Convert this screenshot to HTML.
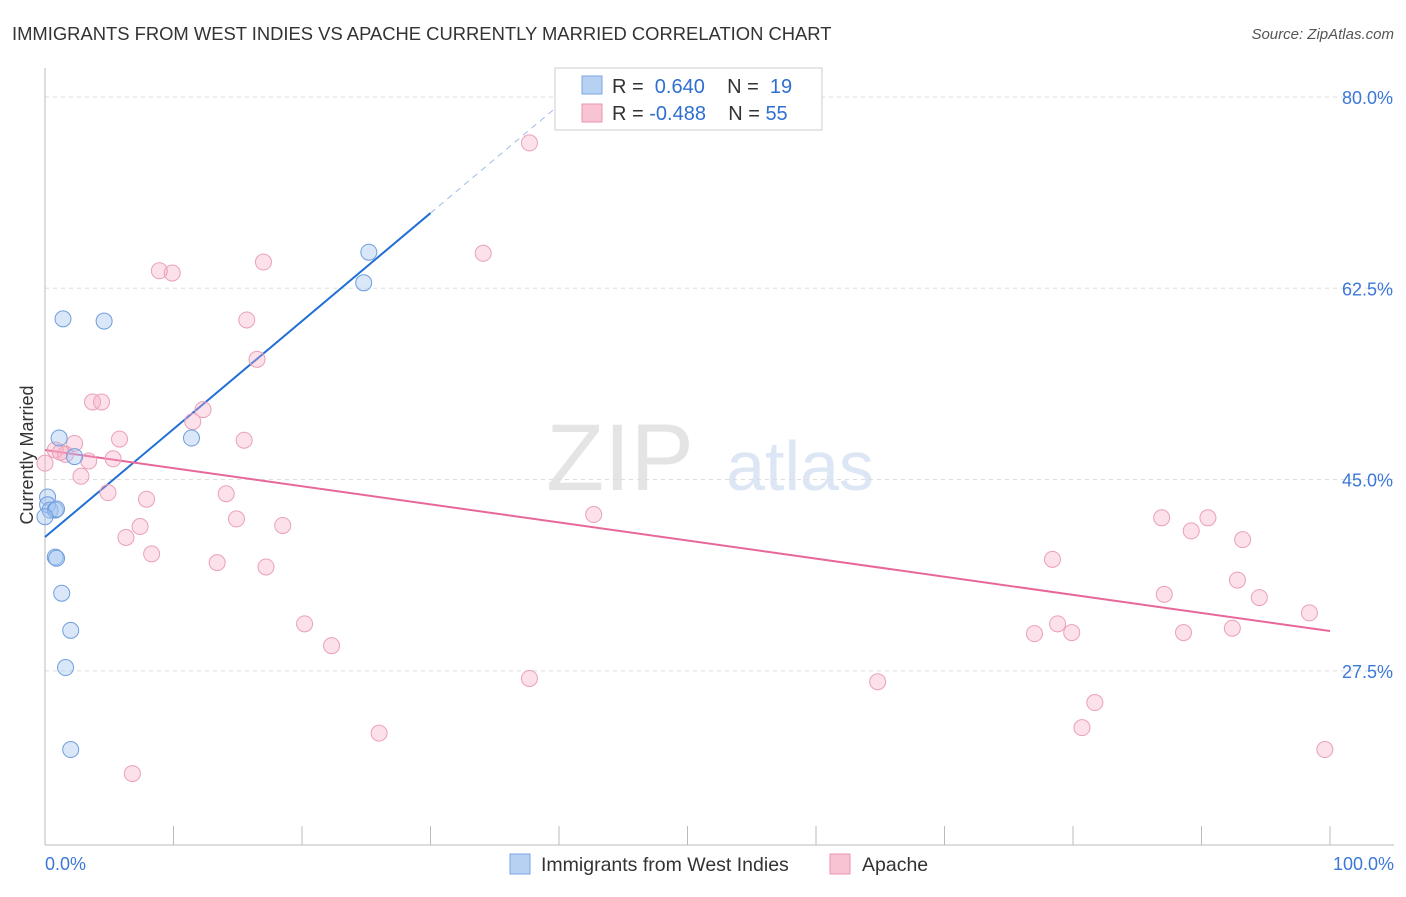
<!DOCTYPE html>
<html><head><meta charset="utf-8"><style>
body{margin:0;background:#fff;font-family:"Liberation Sans",sans-serif;}
svg text{font-family:"Liberation Sans",sans-serif;}
</style></head><body>
<svg id="chart" width="1406" height="892">
<text x="12" y="40" font-size="18.4" fill="#333">IMMIGRANTS FROM WEST INDIES VS APACHE CURRENTLY MARRIED CORRELATION CHART</text>
<text x="1394" y="39" font-size="15" fill="#555" font-style="italic" text-anchor="end">Source: ZipAtlas.com</text>
<text x="620" y="490" font-size="95" fill="#e4e4e4" font-family="Liberation Serif" text-anchor="middle">ZIP</text>
<text x="800" y="490" font-size="70" fill="#dce6f4" text-anchor="middle">atlas</text>
<text transform="translate(33,455) rotate(-90)" font-size="18" fill="#333" text-anchor="middle">Currently Married</text>
<g id="grid"></g><g id="axes"></g><g id="lines"></g><g id="pts"></g>
<g>
<rect x="555" y="68" width="267" height="62" fill="#fff" stroke="#ccc"/>
<rect x="582" y="76" width="20" height="18" fill="#b7d1f3" stroke="#7aa6e0"/>
<text x="612" y="93" font-size="20" fill="#333">R = <tspan fill="#2f6fd0">&#160;0.640</tspan>&#160;&#160;&#160;&#160;N = <tspan fill="#2f6fd0">&#160;19</tspan></text>
<rect x="582" y="104" width="20" height="18" fill="#f8c4d3" stroke="#e896b0"/>
<text x="612" y="120" font-size="20" fill="#333">R = <tspan fill="#2f6fd0">-0.488</tspan>&#160;&#160;&#160;&#160;N = <tspan fill="#2f6fd0">55</tspan></text>
</g>
<g>
<rect x="510" y="854" width="20" height="20" fill="#b7d1f3" stroke="#7aa6e0"/>
<text x="541" y="871" font-size="19.5" fill="#333">Immigrants from West Indies</text>
<rect x="830" y="854" width="20" height="20" fill="#f8c4d3" stroke="#e896b0"/>
<text x="862" y="871" font-size="19.5" fill="#333">Apache</text>
</g>
</svg>
<script>
const yTicks=[80,62.5,45,27.5];
const xTickLabels=["0.0%","100.0%"];
const blueX=[0.2,0.2,0.4,0.8,0.9,0.0,0.8,0.9,1.3,2.0,1.6,2.0,1.4,4.6,1.1,2.3,11.4,24.8,25.2];
const blueY=[43.4,42.7,42.2,42.2,42.3,41.6,37.9,37.8,34.6,31.2,27.8,20.3,59.7,59.5,48.8,47.1,48.8,63.0,65.8];
const pinkX=[37.7,34.1,8.9,9.9,17.0,15.7,16.5,3.7,4.4,12.3,11.5,5.8,15.5,2.3,0.8,1.6,3.4,5.3,2.8,4.9,7.9,14.1,14.9,7.4,18.5,6.3,8.3,13.4,17.2,20.2,22.3,26.0,37.7,6.8,42.7,64.8,78.4,77.0,78.8,79.9,81.7,80.7,86.9,89.2,90.5,93.2,92.8,87.1,88.6,92.4,94.5,98.4,99.6,0.0,1.2];
const pinkY=[75.8,65.7,64.1,63.9,64.9,59.6,56.0,52.1,52.1,51.4,50.3,48.7,48.6,48.3,47.7,47.3,46.7,46.9,45.3,43.8,43.2,43.7,41.4,40.7,40.8,39.7,38.2,37.4,37.0,31.8,29.8,21.8,26.8,18.1,41.8,26.5,37.7,30.9,31.8,31.0,24.6,22.3,41.5,40.3,41.5,39.5,35.8,34.5,31.0,31.4,34.2,32.8,20.3,46.5,47.5];
const blueTrend=[39.74,0.988], pinkTrend=[47.7,-0.1656];
const X=v=>45+v*12.85, Y=v=>97+(80-v)*10.93;
const NS="http://www.w3.org/2000/svg";
function mk(t,a,p){const e=document.createElementNS(NS,t);for(const k in a)e.setAttribute(k,a[k]);document.getElementById(p).appendChild(e);return e;}
yTicks.forEach(t=>{
 const g=mk('line',{x1:45,x2:1394,y1:Y(t),y2:Y(t),stroke:'#ddd','stroke-dasharray':'4,4'},'grid');
 
 
 const l=mk('text',{x:1393,y:Y(t)+7,'font-size':18,fill:'#3b78d8','text-anchor':'end'},'grid');
 l.textContent=t.toFixed(1)+'%';
 
 
});
const ax=mk('line',{x1:45,x2:1394,y1:845,y2:845,stroke:'#bbb'},'axes');


const ay=mk('line',{x1:45,x2:45,y1:68,y2:845,stroke:'#bbb'},'axes');


for(let i=0;i<=10;i++){const t=mk('line',{x1:X(i*10),x2:X(i*10),y1:826,y2:845,stroke:'#bbb'},'axes');
 
 }
const xl0=mk('text',{x:45,y:870,'font-size':18,fill:'#3b78d8'},'axes');xl0.textContent=xTickLabels[0];


const xl1=mk('text',{x:1394,y:870,'font-size':18,fill:'#3b78d8','text-anchor':'end'},'axes');xl1.textContent=xTickLabels[1];


pinkX.forEach((x,i)=>{const c=mk('circle',{cx:X(x),cy:Y(pinkY[i]),r:8,fill:'rgba(245,170,195,0.35)',stroke:'#eaa0b8','stroke-width':1},'pts');
 
 });
blueX.forEach((x,i)=>{const c=mk('circle',{cx:X(x),cy:Y(blueY[i]),r:8,fill:'rgba(160,195,240,0.4)',stroke:'#6f9ede','stroke-width':1},'pts');
 
 });
const bl=mk('line',{x1:X(0),y1:Y(blueTrend[0]),x2:X(30),y2:Y(blueTrend[0]+30*blueTrend[1]),stroke:'#1f6fd6','stroke-width':2},'lines');


const bd=mk('line',{x1:X(30),y1:Y(blueTrend[0]+30*blueTrend[1]),x2:X(41),y2:Y(blueTrend[0]+41*blueTrend[1]),stroke:'#9dbbe6','stroke-width':1,'stroke-dasharray':'6,5'},'lines');


const pl=mk('line',{x1:X(0),y1:Y(pinkTrend[0]),x2:X(100),y2:Y(pinkTrend[0]+100*pinkTrend[1]),stroke:'#e8679a','stroke-width':2},'lines');


</script>
</body></html>
